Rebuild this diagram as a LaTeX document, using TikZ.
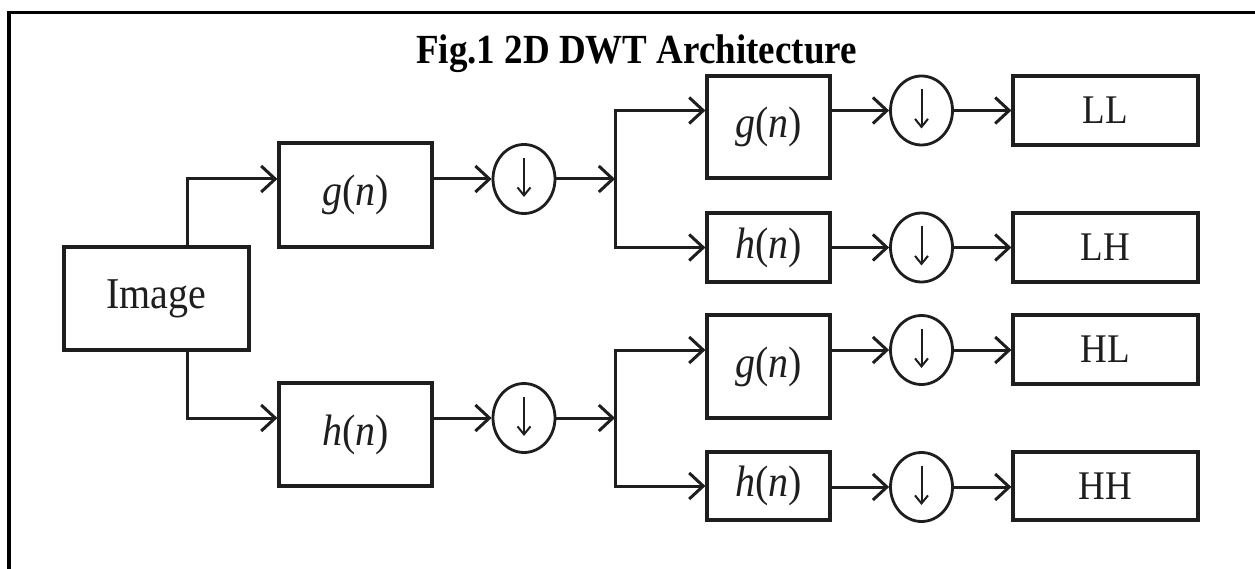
\documentclass[tikz,border=0pt]{standalone}
\usepackage{fontspec}
\setmainfont{Liberation Serif}
\usetikzlibrary{arrows.meta,shapes.geometric}
\definecolor{ink}{RGB}{30,30,30}
\tikzset{
  blk/.style={draw=ink, line width=3.2pt, rectangle, inner sep=0pt,
    font=\fontsize{40}{42}\selectfont, text=ink},
  dsmp/.style={draw=ink, line width=2.8pt, ellipse, inner sep=0pt,
    minimum width=62pt, minimum height=69pt},
  dnarr/.style={draw=ink, line width=2pt,
    -{Straight Barb[length=8pt,width=13pt,line width=2pt]}},
  arr/.style={draw=ink, line width=3pt,
    -{Straight Barb[length=14pt,width=26pt,line width=3pt]}},
}
\newcommand{\tall}[1]{\scalebox{1}[1.1]{#1}}
\newcommand{\gn}{\tall{\textit{g}(\textit{n})}}
\newcommand{\hn}{\tall{\textit{h}(\textit{n})}}
\begin{document}
\begin{tikzpicture}[x=1pt,y=-1pt]
\useasboundingbox (0,0) rectangle (1255,569);
\fill[white] (0,0) rectangle (1255,569);
% frame
\draw[black, line width=3.6pt] (9,600) -- (9,12.5) -- (1270,12.5);
% title
\node[anchor=base, font=\bfseries\fontsize{37}{40}\selectfont] (title) at (636.5,64)
  {\scalebox{1}[1.12]{Fig.1 2D DWT Architecture}};
% first level
\node[blk, minimum width=185pt, minimum height=103pt] (img) at (156.5,298.5) {\tall{Image}};
\node[blk, minimum width=153pt, minimum height=104pt] (g1) at (355.5,195) {\gn};
\node[blk, minimum width=153pt, minimum height=103pt] (h1) at (355.5,434.5) {\hn};
\node[dsmp] (d1) at (524,179) {};
\node[dsmp] (d2) at (524,418) {};
\coordinate (j1) at (615,179);
\coordinate (j2) at (615,418);
% second level
\node[blk, minimum width=123pt, minimum height=102pt] (g2) at (768.5,127) {\gn};
\node[blk, minimum width=123pt, minimum height=69pt] (h2) at (768.5,247.5) {\hn};
\node[blk, minimum width=123pt, minimum height=103pt] (g3) at (768.5,366.5) {\gn};
\node[blk, minimum width=123pt, minimum height=68pt] (h3) at (768.5,486) {\hn};
\node[dsmp] (d3) at (921.5,110.5) {};
\node[dsmp] (d4) at (921.5,247.5) {};
\node[dsmp] (d5) at (921.5,350) {};
\node[dsmp] (d6) at (921.5,487) {};
\node[blk, minimum width=185pt, minimum height=69pt, font=\fontsize{37}{40}\selectfont] (LL) at (1105.5,110.5) {\tall{LL}};
\node[blk, minimum width=185pt, minimum height=69pt, font=\fontsize{37}{40}\selectfont] (LH) at (1105.5,247.5) {\tall{LH}};
\node[blk, minimum width=185pt, minimum height=69pt, font=\fontsize{37}{40}\selectfont] (HL) at (1105.5,349.5) {\tall{HL}};
\node[blk, minimum width=185pt, minimum height=68pt, font=\fontsize{37}{40}\selectfont] (HH) at (1105.5,486) {\tall{HH}};
% downsampling arrows inside the circles
\foreach \d in {d1,d2,d3,d4,d5,d6}
  \draw[dnarr] ([yshift=21pt]\d.center) -- ([yshift=-18pt]\d.center);
% connectors level 1
\draw[arr] ([xshift=30.5pt]img.north) |- (g1.west |- d1.center);
\draw[arr] ([xshift=30.5pt]img.south) |- (h1.west |- d2.center);
\draw[arr] (g1.east |- d1.center) -- (d1.west);
\draw[arr] (h1.east |- d2.center) -- (d2.west);
\draw[arr] (d1.east) -- (j1);
\draw[arr] (d2.east) -- (j2);
% split
\draw[arr] (j1) |- (g2.west |- d3.center);
\draw[arr] (j1) |- (h2.west);
\draw[arr] (j2) |- (g3.west |- d5.center);
\draw[arr] (j2) |- (h3.west);
% level 2
\draw[arr] (g2.east |- d3.center) -- (d3.west);
\draw[arr] (h2.east |- d4.center) -- (d4.west);
\draw[arr] (g3.east |- d5.center) -- (d5.west);
\draw[arr] (h3.east |- d6.center) -- (d6.west);
\draw[arr] (d3.east) -- (LL.west |- d3.center);
\draw[arr] (d4.east) -- (LH.west |- d4.center);
\draw[arr] (d5.east) -- (HL.west |- d5.center);
\draw[arr] (d6.east) -- (HH.west |- d6.center);
\end{tikzpicture}
\end{document}
